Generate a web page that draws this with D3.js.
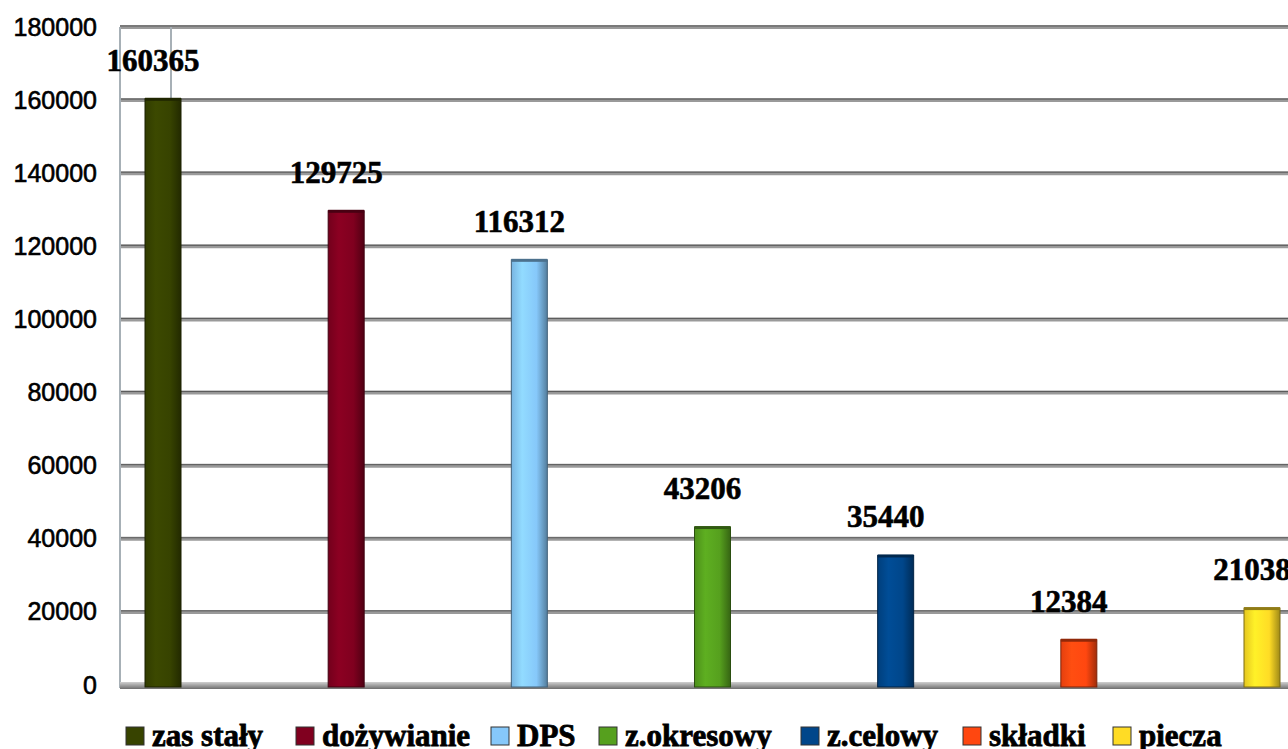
<!DOCTYPE html>
<html>
<head>
	<meta charset="utf-8">
	<title>wydatki</title>
	<script src="https://d3js.org/d3.v7.min.js"></script>
	<style>
		body { margin: 0; background: #fff; }
		svg { display: block; }
	</style>
</head>
<body>
	<svg width="1288" height="749"></svg>
	<script type="text/javascript">
		var categories = ['zas stały', 'dożywianie', 'DPS', 'z.okresowy', 'z.celowy', 'składki', 'piecza'];
		var values = [160365, 129725, 116312, 43206, 35440, 12384, 21038];
		var colors = ['#374300', '#80001f', '#86c8fa', '#56a01e', '#00468a', '#ff4710', '#ffdc25'];
		var yTicks = [0, 20000, 40000, 60000, 80000, 100000, 120000, 140000, 160000, 180000];

		var svg = d3.select('svg');
		var plotLeft = 120, plotRight = 1300, plotTop = 27, plotBottom = 685;

		var x = d3.scalePoint()
			.domain(categories)
			.range([163, 1262]);
		var y = d3.scaleLinear()
			.domain([0, 180000])
			.range([plotBottom, plotTop]);
		var barW = 36;

		// gradients for the cylinder-ish bars
		var defs = svg.append('defs');
		colors.forEach(function(c, i) {
			var g = defs.append('linearGradient').attr('id', 'g' + i);
			g.append('stop').attr('offset', '0%').attr('stop-color', d3.color(c).darker(0.3));
			g.append('stop').attr('offset', '30%').attr('stop-color', d3.color(c).brighter(0.25));
			g.append('stop').attr('offset', '70%').attr('stop-color', c);
			g.append('stop').attr('offset', '100%').attr('stop-color', d3.color(c).darker(1.3));
		});
		var fl = defs.append('linearGradient').attr('id', 'floor')
			.attr('x1', 0).attr('y1', 0).attr('x2', 0).attr('y2', 1);
		fl.append('stop').attr('offset', '0%').attr('stop-color', '#d0d0d0');
		fl.append('stop').attr('offset', '100%').attr('stop-color', '#6e6e6e');

		// grid
		svg.append('g')
			.selectAll('g')
			.data(yTicks.slice(1))
			.enter().append('g')
			.each(function(t) {
				var g = d3.select(this);
				g.append('line')
					.attr('x1', plotLeft).attr('x2', plotRight)
					.attr('y1', y(t)).attr('y2', y(t))
					.attr('stroke', '#9a9a9a').attr('stroke-width', 4);
				g.append('line')
					.attr('x1', plotLeft).attr('x2', plotRight)
					.attr('y1', y(t) - 1).attr('y2', y(t) - 1)
					.attr('stroke', '#5a5a5a').attr('stroke-width', 1);
			});

		// left wall
		svg.append('line')
			.attr('x1', plotLeft).attr('x2', plotLeft)
			.attr('y1', plotTop).attr('y2', plotBottom + 3)
			.attr('stroke', '#a7b0b6').attr('stroke-width', 2);
		svg.append('line')
			.attr('x1', 171).attr('x2', 171)
			.attr('y1', plotTop).attr('y2', y(160000))
			.attr('stroke', '#a7b0b6').attr('stroke-width', 2);

		// floor
		svg.append('rect')
			.attr('x', plotLeft).attr('y', plotBottom - 3)
			.attr('width', plotRight - plotLeft).attr('height', 7)
			.attr('fill', 'url(#floor)');

		// y axis labels
		var yAxis = d3.axisLeft(y)
			.tickValues(yTicks)
			.tickSize(0)
			.tickPadding(0)
			.tickFormat(d3.format('d'));
		svg.append('g')
			.attr('transform', 'translate(97,0)')
			.call(yAxis)
			.call(function(g) { g.select('.domain').remove(); })
			.selectAll('text')
			.attr('font-family', 'Liberation Sans, Arial, sans-serif')
			.attr('font-size', 25)
			.attr('fill', '#000')
			.attr('stroke', '#000')
			.attr('stroke-width', 0.6);

		// bars
		var bars = svg.append('g')
			.selectAll('g')
			.data(values)
			.enter().append('g');
		bars.append('rect')
			.attr('x', (d, i) => x(categories[i]) - barW / 2)
			.attr('y', d => y(d))
			.attr('width', barW)
			.attr('height', d => plotBottom + 2 - y(d))
			.attr('fill', (d, i) => 'url(#g' + i + ')')
			.attr('stroke', (d, i) => d3.color(colors[i]).darker(2))
			.attr('stroke-width', 1);
		bars.append('rect')
			.attr('x', (d, i) => x(categories[i]) - barW / 2)
			.attr('y', d => y(d) - 1)
			.attr('width', barW)
			.attr('height', 3)
			.attr('fill', (d, i) => d3.color(colors[i]).darker(1.6));

		// value labels
		bars.append('text')
			.attr('x', (d, i) => x(categories[i]) - 10)
			.attr('y', d => y(d) - 28)
			.attr('text-anchor', 'middle')
			.attr('font-family', 'Liberation Serif, Times New Roman, serif')
			.attr('font-weight', 'bold')
			.attr('font-size', 31)
			.attr('fill', '#000')
			.attr('stroke', '#000')
			.attr('stroke-width', 0.6)
			.text(d => d);

		// legend
		var legendX = [125, 295, 490, 598, 800, 962, 1112];
		var lg = svg.append('g')
			.selectAll('g')
			.data(categories)
			.enter().append('g')
			.attr('transform', (d, i) => 'translate(' + legendX[i] + ',0)');
		lg.append('rect')
			.attr('x', 1).attr('y', 727)
			.attr('width', 18).attr('height', 18)
			.attr('fill', (d, i) => colors[i])
			.attr('stroke', '#333').attr('stroke-width', 1);
		lg.append('text')
			.attr('x', 27).attr('y', 746)
			.attr('font-family', 'Liberation Serif, Times New Roman, serif')
			.attr('font-weight', 'bold')
			.attr('font-size', 31)
			.attr('fill', '#000')
			.attr('stroke', '#000')
			.attr('stroke-width', 0.8)
			.text(d => d);
	</script>
</body>
</html>
